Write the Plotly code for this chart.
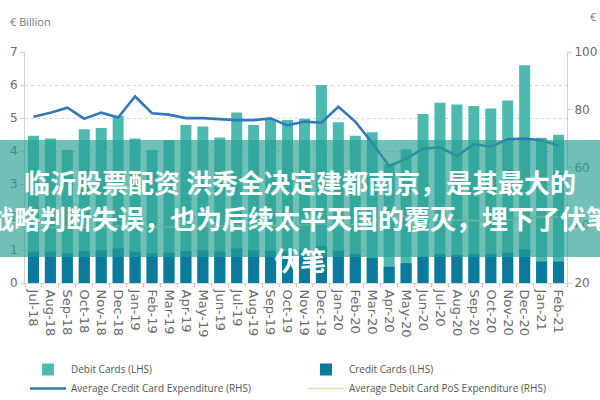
import plotly.graph_objects as go

months = ["Jul-18", "Aug-18", "Sep-18", "Oct-18", "Nov-18", "Dec-18",
          "Jan-19", "Feb-19", "Mar-19", "Apr-19", "May-19", "Jun-19",
          "Jul-19", "Aug-19", "Sep-19", "Oct-19", "Nov-19", "Dec-19",
          "Jan-20", "Feb-20", "Mar-20", "Apr-20", "May-20", "Jun-20",
          "Jul-20", "Aug-20", "Sep-20", "Oct-20", "Nov-20", "Dec-20",
          "Jan-21", "Feb-21"]

debit_cards = [4.46, 4.38, 4.03, 4.66, 4.70, 5.07, 4.38, 4.03, 4.33, 4.79, 4.74, 4.41,
               5.17, 4.79, 4.94, 4.94, 4.98, 6.00, 4.87, 4.46, 4.57, 3.60, 4.05, 5.12,
               5.46, 5.41, 5.36, 5.29, 5.53, 6.60, 4.40, 4.49]

credit_cards = [0.95, 0.95, 0.90, 0.97, 0.99, 1.05, 0.95, 0.90, 0.92, 0.97, 0.99, 0.95,
                1.05, 0.99, 0.98, 0.96, 0.99, 1.12, 0.98, 0.88, 0.77, 0.49, 0.60, 0.79,
                0.88, 0.85, 0.88, 0.88, 0.92, 1.02, 0.65, 0.65]

avg_credit_exp = [77.6, 79.0, 80.7, 76.9, 79.0, 77.3, 84.6, 78.8, 78.3, 77.1, 77.1, 76.8,
                  76.4, 76.4, 77.0, 74.6, 75.9, 75.5, 81.0, 75.9, 68.5, 60.5, 63.0, 66.5,
                  67.0, 64.0, 68.1, 67.2, 69.8, 70.0, 69.4, 67.6]

avg_debit_pos_exp = [39.0, 39.2, 39.4, 39.0, 39.2, 39.8, 39.0, 39.3, 39.4, 39.6, 39.5, 39.8,
                     39.9, 40.0, 39.8, 39.9, 40.1, 40.6, 40.0, 40.2, 41.0, 44.0, 43.0, 42.0,
                     41.5, 41.8, 41.6, 41.5, 41.8, 42.5, 43.0, 42.8]

left_ticks = [0, 1, 2, 3, 4, 5, 6, 7]
right_ticks = [20, 40, 60, 80, 100]

banner_lines = ["临沂股票配资 洪秀全决定建都南京，是其最大的",
                "战略判断失误，也为后续太平天国的覆灭，埋下了伏笔",
                "伏笔"]

W, H = 600, 400
ML, MR, MT, MB = 24.5, 33, 52, 117
PW = W - ML - MR
PH = H - MT - MB


def px_x(x):
    return (x - ML) / PW


def px_y(y):
    return (H - MB - y) / PH


fig = go.Figure()
fig.add_trace(go.Bar(x=months, y=debit_cards, name="Debit Cards (LHS)",
                     marker=dict(color="#4DBAB0", line=dict(width=0)), yaxis="y"))
fig.add_trace(go.Bar(x=months, y=credit_cards, name="Credit Cards (LHS)",
                     marker=dict(color="#0B7A9C", line=dict(width=0)), yaxis="y"))
fig.add_trace(go.Scatter(x=months, y=avg_credit_exp, name="Average Credit Card Expenditure (RHS)",
                         mode="lines", line=dict(color="#3377BC", width=2.6), yaxis="y2"))
fig.add_trace(go.Scatter(x=months, y=avg_debit_pos_exp, name="Average Debit Card PoS Expenditure (RHS)",
                         mode="lines", line=dict(color="#D8E4A8", width=1.6), yaxis="y2"))

tickfont = dict(family="DejaVu Sans", size=12, color="#6a6a6a")

fig.update_layout(
    width=W, height=H,
    margin=dict(l=ML, r=MR, t=MT, b=MB, autoexpand=False),
    paper_bgcolor="white", plot_bgcolor="white",
    barmode="overlay", bargap=0.35,
    font=dict(family="Open Sans", color="#666"),
    xaxis=dict(type="category", tickangle=90, tickfont=dict(family="DejaVu Sans", size=13, color="#6a6a6a"),
               ticklabelstandoff=3,
               showline=True, linecolor="#d8d8d8", linewidth=1,
               ticks="outside", ticklen=3, tickcolor="#e8b4b4", tickson="boundaries",
               showgrid=False, automargin=False, range=[-0.5, len(months) - 0.5]),
    yaxis=dict(range=[0, 7], tickvals=left_ticks, tickfont=tickfont,
               showline=True, linecolor="#d0d0d0", ticks="outside", ticklen=4, tickcolor="#d0d0d0",
               showgrid=True, gridcolor="#d6d6d6", griddash="dot", gridwidth=1,
               zeroline=False, automargin=False),
    yaxis2=dict(range=[20, 100], tickvals=right_ticks, tickfont=tickfont, overlaying="y", side="right",
                showline=True, linecolor="#d0d0d0", ticks="outside", ticklen=4, tickcolor="#d0d0d0",
                showgrid=False, zeroline=False, automargin=False),
    showlegend=True,
    legend=dict(orientation="h", x=-0.0001, xanchor="left", y=px_y(355), yanchor="top",
                itemwidth=36, entrywidth=227, entrywidthmode="pixels",
                font=dict(family="Open Sans", size=10, color="#555"),
                bgcolor="rgba(0,0,0,0)", traceorder="normal"),
)

fig.add_annotation(text="€ Billion", xref="paper", yref="paper", x=px_x(7), y=px_y(22),
                   xanchor="left", yanchor="middle", showarrow=False,
                   font=dict(family="Open Sans", size=11, color="#777"))
fig.add_annotation(text="€", xref="paper", yref="paper", x=px_x(588), y=px_y(17),
                   xanchor="left", yanchor="middle", showarrow=False,
                   font=dict(family="Open Sans", size=11, color="#777"))

# translucent banner overlay
fig.add_shape(type="rect", xref="paper", yref="paper",
              x0=px_x(-2), x1=px_x(602), y0=px_y(257), y1=px_y(140),
              fillcolor="rgba(40,160,146,0.66)", line=dict(width=0), layer="above")

for txt, yc in zip(banner_lines, [181, 217, 259]):
    fig.add_annotation(text="<b>" + txt + "</b>", xref="paper", yref="paper",
                       x=px_x(300), y=px_y(yc), xanchor="center", yanchor="middle",
                       showarrow=False,
                       font=dict(family="Noto Sans CJK SC", size=26, color="white"))

fig.write_html("out.html")
